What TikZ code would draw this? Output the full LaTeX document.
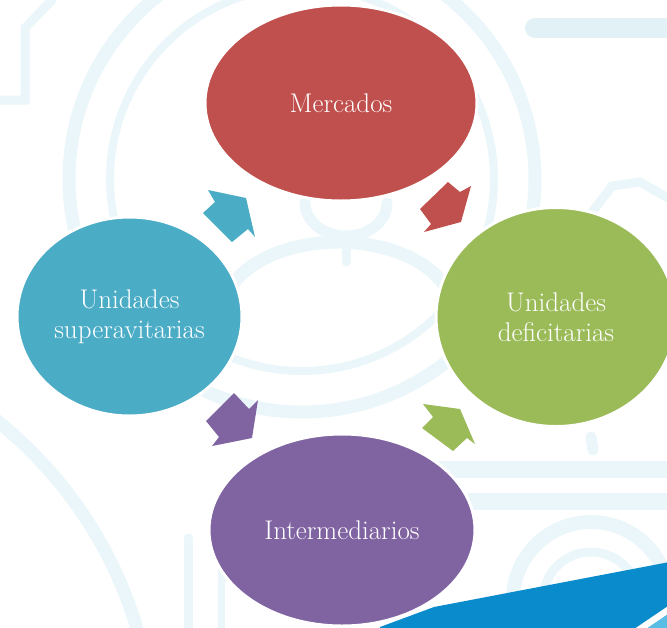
\documentclass[tikz,border=0pt]{standalone}
\usepackage{fontspec}
\usetikzlibrary{shapes.geometric}
\definecolor{cRed}{HTML}{C0504D}
\definecolor{cGreen}{HTML}{9BBB59}
\definecolor{cBlue}{HTML}{4BACC6}
\definecolor{cPurple}{HTML}{8064A2}
\definecolor{wm}{HTML}{EAF6F9}
\definecolor{wmb}{HTML}{E2F1F6}
\definecolor{band}{HTML}{0A8CCC}
\definecolor{bandlight}{HTML}{5BBDE3}
\tikzset{
  bubble/.style={ellipse, draw=white, line width=3pt, inner sep=0pt,
    text=white, align=center, font=\fontsize{27}{30}\selectfont},
  wmline/.style={draw=wm, line width=#1, line cap=round},
  wmline/.default=12pt
}
\begin{document}
\begin{tikzpicture}[x=1pt,y=-1pt]
\useasboundingbox (0,0) rectangle (667,627);
\begin{scope}
\clip (0,0) rectangle (667,627);
% faint watermark background
\draw[wmline=13pt] (302,179) circle (233);
\draw[wmline=8pt] (302,179) circle (192);
\draw[wmline=11pt] (305,203) arc (180:0:41 and 33);
\draw[wmline=9pt] (346,236) -- (346,262);
\draw[wmline=13pt] (225,300) arc (190:350:115 and 70);
\draw[draw=wmb, line width=20pt, line cap=round] (535,28) -- (690,28);
\draw[wmline=9pt] (-5,100) -- (25,100) -- (25,28) -- (52,0);
\draw[wmline=9pt] (590,215) -- (612,186) -- (640,182) -- (680,205);
\draw[wmline=13pt] (-10,415) .. controls (60,470) and (115,545) .. (140,640);
\draw[wmline=9pt] (188,538) -- (188,640);
\draw[wmline=7pt] (221,560) -- (221,640);
\draw[wmline=17pt, line cap=butt] (438,469) -- (680,469);
\draw[wmline=17pt, line cap=butt] (468,501) -- (680,501);
\draw[wmline=11pt] (591,437) -- (593,450);
\draw[wmline=14pt] (591,600) circle (78);
\draw[wmline=9pt] (591,600) circle (48);
% blue band
\fill[band] (380,640) -- (380,627) -- (434,607) -- (680,560) -- (680,640) -- cycle;
\fill[white] (618,640) -- (680,598) -- (680,606) -- (630,640) -- cycle;
\fill[bandlight] (630,640) -- (680,606) -- (680,640) -- cycle;
% bubbles
\node[bubble, fill=cRed, minimum width=272pt, minimum height=196pt] (merc) at (341,103) {Mercados};
\node[bubble, fill=cGreen, minimum width=240pt, minimum height=219pt] (defi) at (556,317) {Unidades\\deficitarias};
\node[bubble, fill=cBlue, minimum width=225pt, minimum height=199pt] (supe) at (129.5,316.5) {Unidades\\superavitarias};
\node[bubble, fill=cPurple, minimum width=266pt, minimum height=192pt] (inte) at (342,530) {Intermediarios};
% block arrows
\fill[cBlue] (208,190) -- (246,198) -- (255,237) -- (248,229) -- (232,242) -- (203,213) -- (215,202) -- cycle;
\fill[cRed] (448,182) -- (460,192) -- (471,186) -- (461,222) -- (424,232) -- (431,224) -- (420,209) -- cycle;
\fill[cPurple] (234,393) -- (249,409) -- (258,400) -- (252,438) -- (212,446) -- (219,437) -- (206,421) -- cycle;
\fill[cGreen] (423,404) -- (460,409) -- (475,444) -- (467,438) -- (453,451) -- (422,428) -- (433,417) -- cycle;
\end{scope}
\end{tikzpicture}
\end{document}
